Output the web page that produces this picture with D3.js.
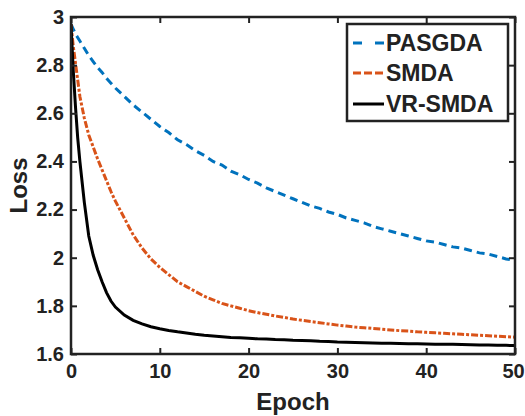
<!DOCTYPE html>
<html>
<head>
<meta charset="utf-8">
<script src="https://cdn.jsdelivr.net/npm/d3@7"></script>
<style>
  body { margin: 0; background: #fff; }
  text { font-family: "Liberation Sans", Arial, sans-serif; font-weight: bold; fill: #222; }
</style>
</head>
<body>
<div id="chart"></div>
<script>
var epochs = [0, 0.25, 0.5, 0.75, 1, 1.5, 2, 2.5, 3, 3.5, 4, 4.5, 5,
  6, 7, 8, 9, 10, 11, 12, 13, 14, 15, 16, 17, 18, 19, 20,
  21, 22, 23, 24, 25, 26, 27, 28, 29, 30, 31, 32, 33, 34, 35,
  36, 37, 38, 39, 40, 41, 42, 43, 44, 45, 46, 47, 48, 49, 50]

var pasgda = [2.97, 2.95, 2.93, 2.915, 2.90, 2.87, 2.84, 2.815, 2.79, 2.77, 2.745, 2.725, 2.705,
  2.67, 2.635, 2.605, 2.575, 2.545, 2.52, 2.49, 2.47, 2.445, 2.425, 2.40, 2.385, 2.36, 2.345, 2.325,
  2.31, 2.29, 2.275, 2.26, 2.245, 2.23, 2.215, 2.205, 2.19, 2.18, 2.165, 2.155, 2.145, 2.13, 2.12,
  2.11, 2.10, 2.09, 2.08, 2.07, 2.065, 2.055, 2.045, 2.04, 2.03, 2.02, 2.015, 2.005, 1.995, 1.99]

var smda = [2.97, 2.88, 2.81, 2.74, 2.67, 2.58, 2.51, 2.46, 2.41, 2.365, 2.32, 2.275, 2.235,
  2.165, 2.095, 2.04, 1.995, 1.96, 1.93, 1.90, 1.88, 1.86, 1.84, 1.825, 1.81, 1.80, 1.79, 1.78,
  1.772, 1.765, 1.758, 1.752, 1.745, 1.74, 1.735, 1.73, 1.725, 1.72, 1.716, 1.712, 1.709, 1.706, 1.703,
  1.70, 1.697, 1.695, 1.692, 1.69, 1.688, 1.686, 1.684, 1.682, 1.68, 1.678, 1.676, 1.674, 1.672, 1.67]

var vrsmda = [2.97, 2.78, 2.63, 2.50, 2.40, 2.23, 2.09, 2.01, 1.95, 1.90, 1.855, 1.82, 1.795,
  1.762, 1.74, 1.725, 1.713, 1.705, 1.698, 1.692, 1.687, 1.682, 1.678, 1.675, 1.672, 1.669, 1.667, 1.665,
  1.663, 1.662, 1.66, 1.659, 1.657, 1.656, 1.655, 1.653, 1.652, 1.65, 1.649, 1.648, 1.647, 1.646, 1.645,
  1.645, 1.644, 1.643, 1.643, 1.642, 1.641, 1.64, 1.64, 1.639, 1.638, 1.637, 1.637, 1.636, 1.636, 1.635]

var seriesNames = ["PASGDA", "SMDA", "VR-SMDA"]
var seriesColors = ["#0072BD", "#D95319", "#000000"]
var seriesDash = ["8,5", "7,2,3,2", null]
var legendDash = ["9,13", "8,3", null]
var xTicks = [0, 10, 20, 30, 40, 50]
var yTicks = [1.6, 1.8, 2, 2.2, 2.4, 2.6, 2.8, 3]

var width = 525, height = 416
var plotL = 71, plotR = 515, plotT = 17, plotB = 354

var svg = d3.select("#chart").append("svg")
  .attr("width", width)
  .attr("height", height)

var x = d3.scaleLinear().domain([0, 50]).range([plotL, plotR])
var y = d3.scaleLinear().domain([1.6, 3]).range([plotB, plotT])

svg.append("clipPath").attr("id", "clip")
  .append("rect")
  .attr("x", plotL).attr("y", plotT)
  .attr("width", plotR - plotL).attr("height", plotB - plotT)

var allSeries = [pasgda, smda, vrsmda]
var line = d3.line()
  .x(function(d, i) { return x(epochs[i]) })
  .y(function(d) { return y(d) })

// curves
var g = svg.append("g").attr("clip-path", "url(#clip)")
allSeries.forEach(function(vals, k) {
  g.append("path")
    .datum(vals)
    .attr("d", line)
    .attr("fill", "none")
    .attr("stroke", seriesColors[k])
    .attr("stroke-width", 3)
    .attr("stroke-dasharray", seriesDash[k])
})

// axes, ticks inward on all four sides
var tickLen = 6
var xAxisG = svg.append("g").attr("transform", "translate(0," + plotB + ")")
  .call(d3.axisBottom(x).tickValues(xTicks).tickSizeInner(-tickLen).tickSizeOuter(0).tickPadding(10))
svg.append("g").attr("transform", "translate(0," + plotT + ")")
  .call(d3.axisTop(x).tickValues(xTicks).tickSizeInner(-tickLen).tickSizeOuter(0).tickFormat(""))
svg.append("g").attr("transform", "translate(" + plotL + ",0)")
  .call(d3.axisLeft(y).tickValues(yTicks).tickSizeInner(-tickLen).tickSizeOuter(0).tickPadding(7).tickFormat(d3.format("~g")))
svg.append("g").attr("transform", "translate(" + plotR + ",0)")
  .call(d3.axisRight(y).tickValues(yTicks).tickSizeInner(-tickLen).tickSizeOuter(0).tickFormat(""))

svg.selectAll(".domain").remove()
svg.selectAll(".tick line").attr("stroke", "#222").attr("stroke-width", 2)
svg.selectAll(".tick text").style("font-size", "20px").attr("fill", "#2a2a2a")
// keep the last x label inside the page
xAxisG.selectAll(".tick text").filter(function(d) { return d == 50 }).attr("dx", -2)

svg.append("rect")
  .attr("x", plotL).attr("y", plotT)
  .attr("width", plotR - plotL).attr("height", plotB - plotT)
  .attr("fill", "none").attr("stroke", "#222").attr("stroke-width", 2.5)

// axis labels
svg.append("text")
  .attr("x", (plotL + plotR) / 2).attr("y", 410)
  .attr("text-anchor", "middle")
  .style("font-size", "24px")
  .text("Epoch")

svg.append("text")
  .attr("transform", "translate(27," + (plotT + plotB) / 2 + ") rotate(-90)")
  .attr("text-anchor", "middle")
  .style("font-size", "24px")
  .text("Loss")

// legend
var legend = svg.append("g")
legend.append("rect")
  .attr("x", 347).attr("y", 24)
  .attr("width", 161).attr("height", 97)
  .attr("fill", "#fff").attr("stroke", "#222").attr("stroke-width", 2.5)

var rowY = [43, 73, 104]
seriesNames.forEach(function(name, k) {
  legend.append("line")
    .attr("x1", 353).attr("x2", 384)
    .attr("y1", rowY[k]).attr("y2", rowY[k])
    .attr("stroke", seriesColors[k])
    .attr("stroke-width", 3)
    .attr("stroke-dasharray", legendDash[k])
  legend.append("text")
    .attr("x", 386).attr("y", rowY[k] + 8)
    .style("font-size", "23px")
    .text(name)
})
</script>
</body>
</html>
